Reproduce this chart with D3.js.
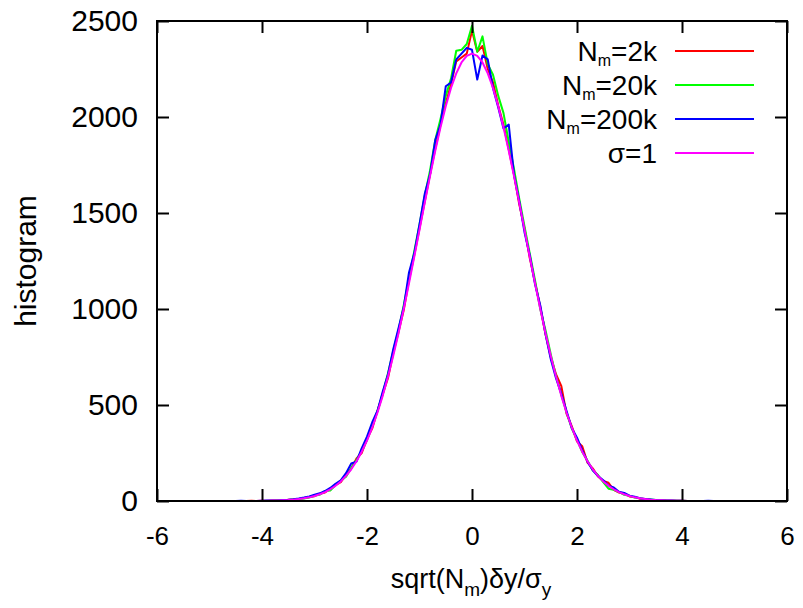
<!DOCTYPE html>
<html>
<head>
<meta charset="utf-8">
<script src="https://cdn.jsdelivr.net/npm/d3@7"></script>
<style>
body { margin: 0; background: #fff; }
text { font-family: "Liberation Sans", Arial, Helvetica, sans-serif; fill: #000; }
</style>
</head>
<body>
<div id="chart"></div>
<script>
// bin centres, -5 .. 5 in steps of 0.1
let bins = d3.range(-50, 51).map(i => i / 10)

let xTicks = [-6, -4, -2, 0, 2, 4, 6]
let yTicks = [0, 500, 1000, 1500, 2000, 2500]

// histogram counts
let nm2k = [
    0, 0, 0, 0, 0, 0, 0, 0, 1, 0,
    1, 0, 2, 3, 3, 6, 8, 9, 15, 21,
    25, 38, 44, 64, 82, 98, 136, 170, 222, 250,
    322, 378, 470, 556, 641, 770, 880, 995, 1150, 1280,
    1420, 1560, 1700, 1835, 1960, 2070, 2170, 2290, 2310, 2330,
    2450,
    2340, 2370, 2250, 2180, 2060, 1960, 1830, 1700, 1545, 1420,
    1265, 1140, 1010, 870, 750, 660, 600, 455, 390, 310,
    285, 200, 170, 128, 104, 95, 58, 44, 38, 24,
    20, 12, 11, 6, 5, 4, 2, 1, 1, 1,
    0, 0, 0, 0, 0, 0, 0, 0, 0, 0
]
let nm20k = [
    0, 0, 0, 0, 0, 0, 0, 0, 0, 0,
    0, 1, 1, 3, 4, 4, 6, 11, 13, 18,
    28, 33, 52, 55, 83, 106, 126, 172, 215, 262,
    318, 395, 468, 560, 665, 780, 890, 1020, 1160, 1300,
    1440, 1590, 1720, 1880, 1990, 2110, 2200, 2345, 2350, 2380,
    2475,
    2340, 2420, 2275, 2220, 2110, 2020, 1870, 1730, 1575, 1430,
    1290, 1150, 1000, 890, 765, 650, 555, 462, 378, 318,
    255, 210, 160, 135, 98, 64, 58, 47, 32, 27,
    18, 15, 9, 8, 5, 3, 3, 2, 1, 1,
    0, 0, 0, 0, 0, 0, 0, 0, 0, 0
]
let nm200k = [
    0, 0, 0, 0, 0, 0, 1, 0, 0, 0,
    1, 2, 2, 3, 5, 6, 9, 13, 18, 24,
    33, 40, 52, 68, 90, 108, 145, 195, 205, 275,
    335, 410, 470, 570, 660, 790, 900, 1010, 1190, 1290,
    1440, 1600, 1700, 1880, 1960, 2160, 2180, 2300, 2330, 2360,
    2350,
    2195, 2320, 2300, 2150, 2050, 1940, 1960, 1700, 1560, 1400,
    1280, 1130, 1020, 870, 740, 640, 560, 470, 380, 330,
    265, 205, 160, 130, 108, 80, 70, 48, 42, 28,
    22, 14, 11, 8, 5, 4, 3, 2, 1, 1,
    0, 0, 0, 0, 1, 0, 0, 0, 0, 0
]
let sigma1 = [
    0, 0, 0, 0, 0, 0, 0, 0, 0, 0,
    1, 1, 2, 2, 4, 5, 7, 10, 14, 19,
    26, 35, 46, 61, 79, 102, 131, 165, 207, 257,
    315, 383, 461, 549, 648, 757, 874, 1001, 1134, 1272,
    1413, 1554, 1692, 1824, 1946, 2056, 2151, 2227, 2284, 2318,
    2330,
    2318, 2284, 2227, 2151, 2056, 1946, 1824, 1692, 1554, 1413,
    1272, 1134, 1001, 874, 757, 648, 549, 461, 383, 315,
    257, 207, 165, 131, 102, 79, 61, 46, 35, 26,
    19, 14, 10, 7, 5, 4, 2, 2, 1, 1,
    0, 0, 0, 0, 0, 0, 0, 0, 0, 0
]

let legendMain = ["N", "N", "N", "σ=1"]
let legendSub = ["m", "m", "m", ""]
let legendTail = ["=2k", "=20k", "=200k", ""]
let colors = ["#ff0000", "#00ff00", "#0000ff", "#ff00ff"]

let series = [nm2k, nm20k, nm200k, sigma1].map((v, i) => ({
    values: v, color: colors[i], main: legendMain[i], sub: legendSub[i], tail: legendTail[i]
}))

let width = 803, height = 608
let plotLeft = 157, plotRight = 787, plotTop = 21, plotBottom = 501

let svg = d3.select("#chart")
    .append("svg")
    .attr("width", width)
    .attr("height", height)

let x = d3.scaleLinear().domain([-6, 6]).range([plotLeft, plotRight])
let y = d3.scaleLinear().domain([0, 2500]).range([plotBottom, plotTop])

// plain hyphen minus and no thousands separator, like gnuplot
let plain = d => String(d)

// curves
let line = d3.line()
    .x((d, i) => x(bins[i]))
    .y(d => y(d))

svg.append("g")
    .selectAll("path")
    .data(series)
    .enter()
    .append("path")
    .attr("d", d => line(d.values))
    .attr("fill", "none")
    .attr("stroke", d => d.color)
    .attr("stroke-width", 2)
    .attr("stroke-linejoin", "round")

// axes, ticks pointing inwards and mirrored
svg.append("g")
    .attr("transform", "translate(0," + plotBottom + ")")
    .call(d3.axisBottom(x).tickValues(xTicks).tickFormat(plain).tickSize(-12).tickPadding(26))
    .call(g => g.select(".domain").remove())
    .selectAll("text")
    .style("font-size", "26px")

svg.append("g")
    .attr("transform", "translate(" + plotLeft + ",0)")
    .call(d3.axisLeft(y).tickValues(yTicks).tickFormat(plain).tickSize(-12).tickPadding(19))
    .call(g => g.select(".domain").remove())
    .selectAll("text")
    .style("font-size", "30px")

svg.append("g")
    .attr("transform", "translate(0," + plotTop + ")")
    .call(d3.axisTop(x).tickValues(xTicks).tickSize(-12).tickFormat(""))
    .call(g => g.select(".domain").remove())

svg.append("g")
    .attr("transform", "translate(" + plotRight + ",0)")
    .call(d3.axisRight(y).tickValues(yTicks).tickSize(-12).tickFormat(""))
    .call(g => g.select(".domain").remove())

svg.selectAll(".tick line")
    .attr("stroke", "#000")
    .attr("stroke-width", 2)

svg.append("rect")
    .attr("x", plotLeft)
    .attr("y", plotTop)
    .attr("width", plotRight - plotLeft)
    .attr("height", plotBottom - plotTop)
    .attr("fill", "none")
    .attr("stroke", "#000")
    .attr("stroke-width", 2)

// axis titles
let xTitle = svg.append("text")
    .attr("x", 471)
    .attr("y", 588)
    .attr("text-anchor", "middle")
    .style("font-size", "27px")
xTitle.append("tspan").text("sqrt(N")
xTitle.append("tspan").attr("dy", 8).style("font-size", "19px").text("m")
xTitle.append("tspan").attr("dy", -8).text(")δy/σ")
xTitle.append("tspan").attr("dy", 8).style("font-size", "19px").text("y")

svg.append("text")
    .attr("transform", "translate(36,261) rotate(-90)")
    .attr("text-anchor", "middle")
    .style("font-size", "30px")
    .text("histogram")

// legend
let legend = svg.append("g")
    .selectAll("g")
    .data(series)
    .enter()
    .append("g")
    .attr("transform", (d, i) => "translate(0," + (51 + i * 34) + ")")

legend.append("line")
    .attr("x1", 675)
    .attr("x2", 754)
    .attr("stroke", d => d.color)
    .attr("stroke-width", 2)

let label = legend.append("text")
    .attr("x", 657)
    .attr("y", 10)
    .attr("text-anchor", "end")
    .style("font-size", "28px")
label.append("tspan").text(d => d.main)
label.append("tspan")
    .attr("dy", d => d.sub ? 5 : 0)
    .style("font-size", "16px")
    .text(d => d.sub)
label.append("tspan")
    .attr("dy", d => d.sub ? -5 : 0)
    .text(d => d.tail)
</script>
</body>
</html>
